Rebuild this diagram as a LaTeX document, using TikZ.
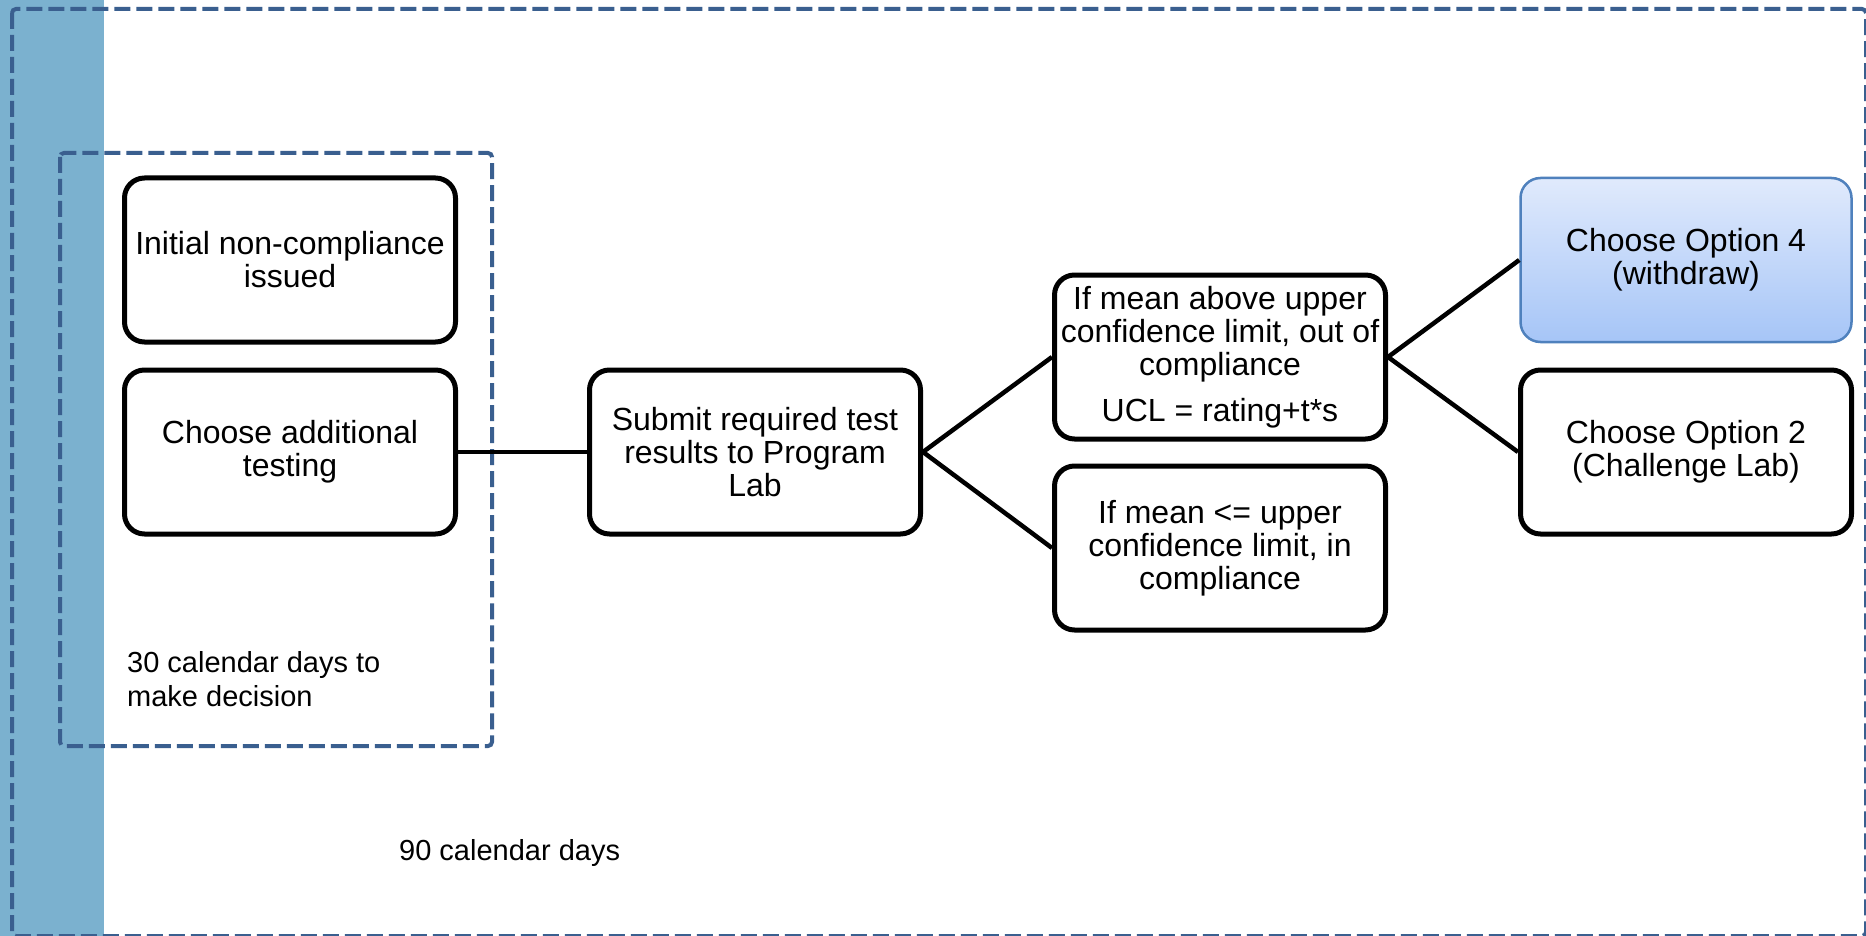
\documentclass[tikz,border=0pt]{standalone}
\usepackage{fontspec}
\setmainfont{Liberation Sans}
\definecolor{strip}{HTML}{7BB1CF}
\definecolor{dashblue}{HTML}{3A5F8F}
\definecolor{optborder}{HTML}{4F81BD}
\definecolor{opttop}{HTML}{E0EAFC}
\definecolor{optbot}{HTML}{A6C5F7}
\tikzset{
  stepbox/.style={draw=black, line width=5pt, rounded corners=20pt, fill=white,
    minimum width=331pt, minimum height=164pt, inner sep=0pt, align=center,
    font=\fontsize{32}{33}\selectfont},
  optbox/.style={stepbox, draw=optborder, line width=2.5pt, top color=opttop, bottom color=optbot},
  region/.style={draw=dashblue, line width=4pt, dash pattern=on 16pt off 6pt, rounded corners=4pt},
  link/.style={line width=4.5pt, black},
  note/.style={inner sep=0pt, font=\fontsize{29}{34}\selectfont, align=left}
}
\begin{document}
\begin{tikzpicture}[x=1pt,y=-1pt]
\useasboundingbox (0,0) rectangle (1866,936);
\fill[white] (0,0) rectangle (1866,936);
\fill[strip] (0,0) rectangle (104,936);
\draw[region] (12,9) rectangle (1866,936);
\draw[region] (60,153) rectangle (492,746);

\node[stepbox] (init) at (290,260) {Initial non-compliance\\issued};
\node[stepbox] (addl) at (290,452) {Choose additional\\testing};
\node[stepbox] (submit) at (755,452) {Submit required test\\results to Program\\Lab};
\node[stepbox] (above) at (1220,357) {If mean above upper\\confidence limit, out of\\compliance\\[13pt]UCL = rating+t*s};
\node[stepbox] (below) at (1220,548) {If mean <= upper\\confidence limit, in\\compliance};
\node[optbox] (opt4) at (1686,260) {Choose Option 4\\(withdraw)};
\node[stepbox] (opt2) at (1686,452) {Choose Option 2\\(Challenge Lab)};

\draw[link] (addl.east) -- (submit.west);
\draw[link] (submit.east) -- (above.west);
\draw[link] (submit.east) -- (below.west);
\draw[link] (above.east) -- (opt4.west);
\draw[link] (above.east) -- (opt2.west);

\node[note, anchor=west] (days30) at (127,679) {30 calendar days to\\make decision};
\node[note, anchor=west] (days90) at (399,853) {90 calendar days};
\end{tikzpicture}
\end{document}
